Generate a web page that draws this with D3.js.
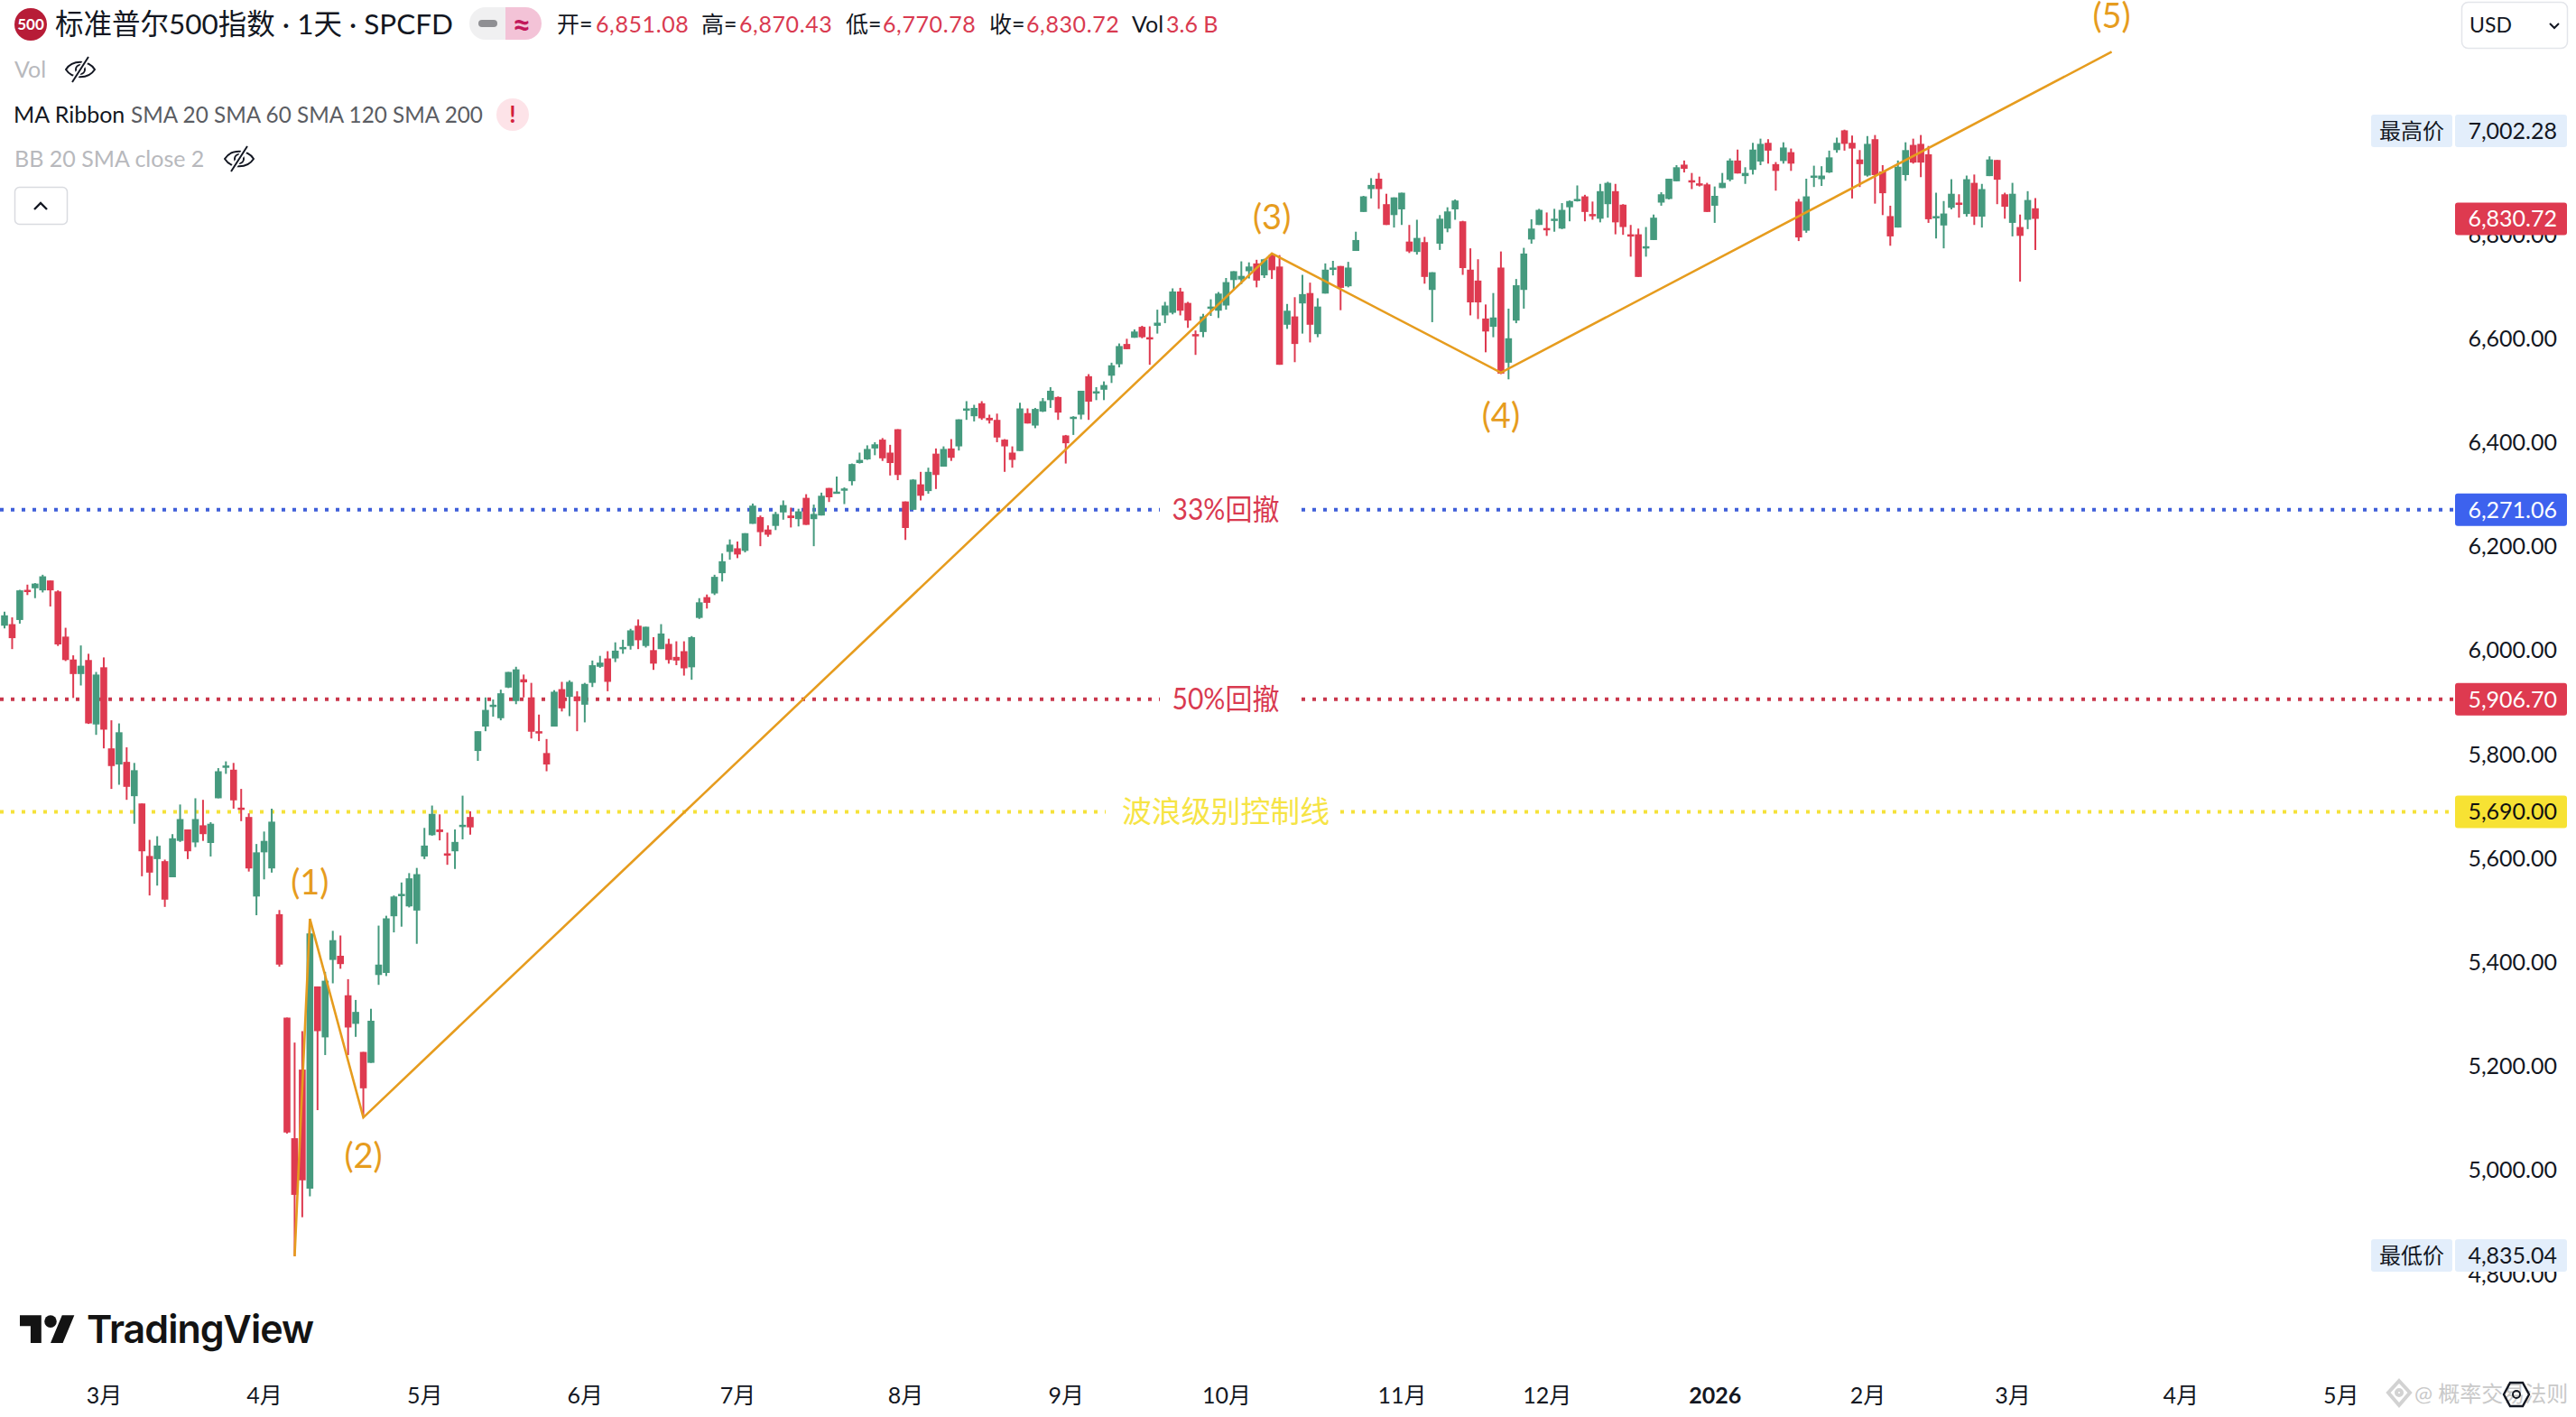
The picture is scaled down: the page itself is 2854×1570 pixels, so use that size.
<!DOCTYPE html>
<html>
<head>
<meta charset="utf-8">
<script src="https://cdn.jsdelivr.net/npm/d3@7"></script>
<style>
  body { margin: 0; background: #fff; }
  text { font-family: "Lato", "Noto Sans CJK SC", sans-serif; }
</style>
</head>
<body>
<div id="chart"></div>
<script>
// Daily candles
const opens = [6048,6051,6059,6117,6120,6116,6135,6114,6027,5983,
  5955,5982,5858,5968,5812,5781,5786,5720,5706,5605,
  5599,5595,5564,5634,5656,5631,5664,5630,5716,5776,
  5771,5698,5680,5527,5612,5581,5493,5294,5062,5194,
  4965,5354,5256,5405,5413,5337,5282,5228,5207,5376,
  5380,5489,5531,5508,5500,5604,5645,5656,5610,5614,
  5663,5680,5807,5854,5893,5870,5929,5903,5945,5910,
  5845,5803,5854,5926,5911,5912,5896,5938,5969,5985,
  5985,6004,6009,6048,6009,6001,6003,6013,5988,5999,
  5968,6063,6103,6110,6149,6190,6197,6192,6244,6257,
  6233,6240,6266,6260,6253,6294,6253,6260,6313,6304,
  6309,6326,6361,6368,6389,6406,6381,6426,6287,6271,
  6320,6307,6379,6354,6389,6393,6462,6451,6476,6448,
  6444,6406,6381,6384,6457,6433,6460,6482,6488,6414,
  6447,6454,6528,6497,6502,6529,6551,6590,6602,6623,
  6603,6625,6645,6650,6691,6669,6609,6613,6660,6654,
  6664,6713,6714,6730,6745,6722,6761,6739,6627,6643,
  6668,6688,6609,6687,6735,6740,6701,6769,6844,6888,
  6908,6859,6838,6849,6787,6767,6786,6694,6783,6812,
  6849,6826,6733,6712,6639,6623,6737,6554,6635,6694,
  6791,6819,6813,6829,6812,6853,6866,6874,6840,6831,
  6859,6884,6858,6801,6801,6776,6790,6862,6869,6903,
  6935,6905,6899,6897,6856,6890,6906,6943,6913,6925,
  6941,6977,6936,6942,6959,6864,6808,6911,6907,6920,
  6963,7001,6977,6945,6914,6984,6922,6836,6814,6915,
  6973,6975,6955,6834,6818,6852,6862,6840,6900,6835,
  6913,6944,6878,6823,6815,6829,6851.08]
const highs = [6075,6064,6117,6127,6130,6146,6135,6116,6044,5991,
  6010,5994,5959,5987,5866,5860,5814,5784,5706,5636,
  5643,5598,5647,5704,5656,5716,5713,5670,5774,5787,
  5784,5734,5687,5628,5652,5696,5501,5294,5246,5268,
  5484,5354,5382,5461,5452,5368,5328,5228,5311,5471,
  5490,5529,5554,5572,5582,5659,5702,5685,5650,5656,
  5721,5691,5845,5910,5906,5925,5959,5969,5954,5938,
  5877,5830,5924,5940,5943,5922,5938,5981,5990,5999,
  6016,6021,6042,6060,6046,6026,6051,6023,6018,6018,
  6028,6101,6108,6146,6187,6214,6210,6226,6283,6260,
  6241,6267,6289,6275,6273,6301,6281,6304,6313,6335,
  6314,6360,6381,6395,6401,6409,6396,6426,6287,6330,
  6344,6352,6389,6393,6407,6445,6480,6473,6480,6454,
  6456,6407,6393,6477,6466,6467,6486,6507,6489,6415,
  6451,6500,6532,6507,6518,6554,6591,6600,6618,6625,
  6624,6656,6671,6697,6698,6671,6616,6648,6676,6690,
  6717,6730,6749,6747,6752,6754,6764,6761,6667,6680,
  6723,6708,6678,6745,6750,6740,6748,6806,6875,6909,
  6919,6879,6872,6881,6819,6829,6796,6728,6838,6853,
  6868,6827,6774,6753,6666,6688,6768,6658,6715,6775,
  6830,6850,6843,6850,6861,6866,6895,6877,6864,6898,
  6902,6898,6859,6819,6812,6815,6839,6882,6908,6934,
  6943,6919,6912,6900,6893,6919,6947,6964,6930,6977,
  6985,6984,6940,6978,6966,6869,6908,6933,6932,6962,
  6987,7002.28,6991,6963,6990,6992,6934,6856,6943,6978,
  6985,6992,6971,6881,6865,6907,6878,6914,6916,6898,
  6951,6944,6881,6900,6839,6884,6870.43]
const lows = [6043,6003,6052,6107,6101,6112,6085,6009,5980,5909,
  5933,5859,5838,5812,5734,5742,5713,5667,5566,5529,
  5548,5507,5564,5632,5599,5622,5634,5604,5716,5763,
  5696,5672,5575,5491,5560,5573,5392,5071,4835.04,4910,
  4950,5116,5222,5360,5388,5222,5257,5102,5207,5357,
  5374,5458,5469,5506,5436,5599,5644,5635,5588,5580,
  5637,5646,5788,5845,5873,5866,5928,5897,5910,5831,
  5826,5768,5854,5883,5874,5845,5862,5930,5967,5922,
  5978,5994,6002,6003,6006,5963,6003,5975,5972,5952,
  5944,6061,6081,6107,6133,6175,6178,6189,6244,6201,
  6219,6232,6252,6237,6239,6242,6201,6260,6286,6304,
  6282,6318,6360,6367,6376,6365,6337,6328,6213,6271,
  6289,6302,6311,6354,6365,6385,6444,6441,6444,6437,
  6401,6344,6352,6384,6437,6428,6459,6467,6444,6360,
  6415,6445,6444,6482,6482,6515,6545,6580,6602,6601,
  6550,6610,6630,6647,6645,6621,6569,6603,6644,6640,
  6656,6693,6705,6716,6699,6717,6715,6550,6619,6555,
  6610,6593,6603,6687,6722,6655,6699,6769,6844,6870,
  6850,6819,6814,6819,6765,6762,6706,6632,6771,6805,
  6829,6723,6645,6638,6574,6603,6532,6522,6630,6658,
  6783,6819,6798,6806,6811,6826,6864,6826,6829,6824,
  6833,6801,6800,6758,6719,6758,6790,6856,6868,6903,
  6920,6888,6893,6844,6823,6890,6903,6918,6898,6916,
  6934,6937,6885,6937,6923,6788,6804,6892,6894,6919,
  6958,6962,6870,6892,6912,6860,6838,6779,6814,6904,
  6937,6911,6823,6793,6774,6849,6833,6835,6819,6814,
  6913,6859,6831,6797,6710,6811,6770.78]
const closes = [6068,6024,6116,6115,6129,6143,6116,6012,5982,5955,
  5971,5860,5954,5848,5778,5843,5738,5770,5614,5573,
  5625,5521,5639,5676,5614,5676,5647,5667,5768,5779,
  5712,5695,5581,5612,5634,5671,5396,5073,4953,4981,
  5456,5268,5365,5443,5397,5275,5305,5158,5288,5396,
  5485,5527,5532,5562,5570,5625,5686,5651,5607,5632,
  5665,5660,5845,5886,5896,5918,5959,5964,5939,5844,
  5842,5781,5921,5889,5940,5903,5936,5972,5977,5940,
  6000,6007,6039,6020,6046,5975,6033,5982,5981,5966,
  6026,6093,6092,6142,6172,6204,6185,6226,6279,6228,
  6223,6263,6280,6255,6268,6242,6263,6298,6295,6306,
  6312,6359,6367,6388,6397,6370,6361,6338,6236,6329,
  6298,6344,6338,6388,6371,6445,6466,6467,6447,6443,
  6410,6393,6367,6466,6437,6465,6480,6500,6458,6399,
  6450,6500,6479,6499,6511,6549,6586,6580,6614,6603,
  6599,6631,6664,6691,6654,6635,6606,6643,6662,6687,
  6709,6730,6721,6739,6712,6753,6732,6550,6654,6590,
  6686,6627,6662,6733,6737,6698,6737,6790,6874,6896,
  6888,6819,6872,6881,6768,6794,6719,6728,6831,6845,
  6866,6736,6670,6670,6614,6641,6533,6601,6703,6764,
  6812,6848,6810,6831,6848,6865,6869,6844,6838,6884,
  6900,6824,6815,6798,6719,6778,6833,6878,6908,6930,
  6927,6903,6895,6844,6875,6900,6943,6918,6919,6964,
  6975,6962,6923,6968,6937,6795,6874,6914,6914,6949,
  6977,6975,6966,6936,6975,6915,6880,6797,6931,6963,
  6939,6939,6830,6836,6841,6879,6859,6907,6835,6888,
  6945,6906,6854,6879,6798,6867,6830.72]

// Month ticks: bar index of the first session of each month
const monthIndex = [13,34,55,76,96,118,139,160,183,202,224,244,263,285,306]
const monthLabels = ['3月','4月','5月','6月','7月','8月','9月','10月','11月','12月','2026','2月','3月','4月','5月']
const priceTicks = [4800,5000,5200,5400,5600,5800,6000,6200,6400,6600,6800,7000]

// Elliott wave path
const waveIndex = [38,40,47,166,196,276]
const wavePrice = [4835.04,5484,5102,6764,6535,7152]
const waveLabels = ['(1)','(2)','(3)','(4)','(5)']
const waveLabelIndex = [40,47,166,196,276]
const waveLabelPrice = [5554,5028,6835,6453,7221]

// Horizontal levels
const levelNames = ['33%回撤','50%回撤','波浪级别控制线']
const levelPrices = [6271.06,5906.70,5690.00]
const levelColors = ['#3f5fd9','#c9374c','#f5e23a']
const levelTextColors = ['#d93a50','#d93a50','#f6e445']
const levelBoxColors = ['#3d62ee','#de3a50','#f7e233']
const levelBoxText = ['#fff','#fff','#111']
const levelGap = [[1285,1442],[1285,1442],[1225,1485]]
const levelFontSize = [32,32,33]
const levelTextLength = [119,119,230]

const upColor = '#459a7e'
const downColor = '#de3a50'
const waveColor = '#e69c1e'

const width = 2854, height = 1570
const svg = d3.select('#chart').append('svg')
  .attr('width', width)
  .attr('height', height)
  .style('display', 'block')
  .style('background', '#fff')

const x = d3.scaleLinear().domain([0, 266]).range([5, 2255])
const y = d3.scaleLinear().domain([4800, 7000]).range([1412, 145])
const fmt = d3.format(',.2f')

// Price axis
const yAxis = svg.append('g')
  .attr('transform', 'translate(2833,0)')
  .call(d3.axisRight(y).tickValues(priceTicks).tickSize(0).tickPadding(0).tickFormat(fmt))
yAxis.select('.domain').remove()
yAxis.selectAll('text')
  .attr('text-anchor', 'end')
  .attr('font-size', 25)
  .attr('fill', '#131722')

// Time axis
const xAxis = svg.append('g')
  .attr('transform', 'translate(0,1537)')
  .call(d3.axisBottom(x).tickValues(monthIndex).tickSize(0).tickPadding(0)
    .tickFormat((d, i) => monthLabels[i]))
xAxis.select('.domain').remove()
xAxis.selectAll('text')
  .attr('font-size', 25)
  .attr('fill', '#131722')
  .attr('font-weight', (d, i) => monthLabels[i] === '2026' ? 700 : 400)

// Dotted levels, each broken around its label
levelNames.forEach((name, i) => {
  const yy = y(levelPrices[i])
  const parts = [[0, levelGap[i][0]], [levelGap[i][1], 2720]]
  svg.append('g').selectAll('line')
    .data(parts)
    .enter()
    .append('line')
      .attr('x1', d => d[0])
      .attr('x2', d => d[1])
      .attr('y1', yy)
      .attr('y2', yy)
      .attr('stroke', levelColors[i])
      .attr('stroke-width', 4)
      .attr('stroke-dasharray', '4 8')
  svg.append('text')
    .attr('x', 1358)
    .attr('y', yy)
    .attr('dy', '0.36em')
    .attr('text-anchor', 'middle')
    .attr('font-size', levelFontSize[i])
    .attr('textLength', levelTextLength[i])
    .attr('lengthAdjust', 'spacingAndGlyphs')
    .attr('fill', levelTextColors[i])
    .text(name)
})

// Candles
const candles = d3.range(closes.length)
const candle = svg.append('g').selectAll('g')
  .data(candles)
  .enter()
  .append('g')
candle.append('line')
  .attr('x1', i => x(i))
  .attr('x2', i => x(i))
  .attr('y1', i => y(highs[i]))
  .attr('y2', i => y(lows[i]))
  .attr('stroke', i => closes[i] >= opens[i] ? upColor : downColor)
  .attr('stroke-width', 2)
candle.append('rect')
  .attr('x', i => x(i) - 3.8)
  .attr('width', 7.6)
  .attr('y', i => y(Math.max(opens[i], closes[i])))
  .attr('height', i => Math.max(2.5, Math.abs(y(opens[i]) - y(closes[i]))))
  .attr('fill', i => closes[i] >= opens[i] ? upColor : downColor)

// Wave line and its labels
const waveLine = d3.line()
  .x(d => x(d[0]))
  .y(d => y(d[1]))
svg.append('path')
  .datum(d3.zip(waveIndex, wavePrice))
  .attr('d', waveLine)
  .attr('fill', 'none')
  .attr('stroke', waveColor)
  .attr('stroke-width', 2.6)
svg.append('g').selectAll('text')
  .data(waveLabels)
  .enter()
  .append('text')
    .attr('x', (d, i) => x(waveLabelIndex[i]))
    .attr('y', (d, i) => y(waveLabelPrice[i]))
    .attr('dy', '0.36em')
    .attr('text-anchor', 'middle')
    .attr('font-size', 38)
    .attr('fill', waveColor)
    .text(d => d)

// Price boxes on the right
function priceBox(yy, label, fill, color) {
  svg.append('rect')
    .attr('x', 2720).attr('y', yy - 18)
    .attr('width', 124).attr('height', 36)
    .attr('rx', 3)
    .attr('fill', fill)
  svg.append('text')
    .attr('x', 2833).attr('y', yy)
    .attr('dy', '0.36em')
    .attr('text-anchor', 'end')
    .attr('font-size', 25)
    .attr('fill', color)
    .text(label)
}
function sideBox(yy, label) {
  svg.append('rect')
    .attr('x', 2627).attr('y', yy - 18)
    .attr('width', 90).attr('height', 36)
    .attr('rx', 3)
    .attr('fill', '#e3eefb')
  svg.append('text')
    .attr('x', 2672).attr('y', yy)
    .attr('dy', '0.36em')
    .attr('text-anchor', 'middle')
    .attr('font-size', 24)
    .attr('fill', '#131722')
    .text(label)
}
sideBox(145, '最高价')
priceBox(145, fmt(7002.28), '#e3eefb', '#131722')
priceBox(y(closes[266]), fmt(closes[266]), '#de3a50', '#fff')
levelPrices.forEach((p, i) => priceBox(y(p), fmt(p), levelBoxColors[i], levelBoxText[i]))
sideBox(1391, '最低价')
priceBox(1391, fmt(4835.04), '#e3eefb', '#131722')

// Currency selector
svg.append('rect')
  .attr('x', 2727.5).attr('y', 2.5)
  .attr('width', 117).attr('height', 51)
  .attr('rx', 7)
  .attr('fill', '#fff')
  .attr('stroke', '#e3e5ea')
  .attr('stroke-width', 1.5)
svg.append('text')
  .attr('x', 2736).attr('y', 28)
  .attr('dy', '0.36em')
  .attr('font-size', 23)
  .attr('fill', '#131722')
  .text('USD')
svg.append('path')
  .attr('d', 'M2825 26l5 5 5-5')
  .attr('fill', 'none')
  .attr('stroke', '#131722')
  .attr('stroke-width', 2)

// Legend header
function legendText(xx, yy, str, size, color) {
  return svg.append('text')
    .attr('x', xx).attr('y', yy)
    .attr('dy', '0.36em')
    .attr('font-size', size)
    .attr('fill', color)
    .text(str)
}
svg.append('circle').attr('cx', 34).attr('cy', 27).attr('r', 18).attr('fill', '#b71c37')
svg.append('text')
  .attr('x', 34).attr('y', 27)
  .attr('dy', '0.36em')
  .attr('text-anchor', 'middle')
  .attr('font-size', 17)
  .attr('font-weight', 700)
  .attr('fill', '#fff')
  .text('500')
legendText(61, 27, '标准普尔500指数 · 1天 · SPCFD', 31.5, '#131722')

// Status pill
svg.append('path').attr('d', 'M560 8h-22a18 18 0 0 0 0 36h22z').attr('fill', '#f0f0f1')
svg.append('path').attr('d', 'M560 8h22a18 18 0 0 1 0 36h-22z').attr('fill', '#f3c3d7')
svg.append('rect').attr('x', 530).attr('y', 22).attr('width', 21).attr('height', 8).attr('rx', 4).attr('fill', '#8f8f93')
svg.append('text')
  .attr('x', 578).attr('y', 27)
  .attr('dy', '0.36em')
  .attr('text-anchor', 'middle')
  .attr('font-size', 36)
  .attr('font-weight', 700)
  .attr('fill', '#c2185b')
  .text('≈')

const ohlcNames = ['开=', '高=', '低=', '收=']
const ohlcValues = [6851.08, 6870.43, 6770.78, 6830.72]
const ohlcNameX = [617, 777, 937, 1096]
const ohlcValueX = [660, 819, 978, 1137]
ohlcNames.forEach((n, i) => {
  legendText(ohlcNameX[i], 27, n, 25, '#131722')
  legendText(ohlcValueX[i], 27, fmt(ohlcValues[i]), 25, '#d93a50')
    .style('letter-spacing', '0.6px')
})
legendText(1254, 27, 'Vol', 25, '#131722')
legendText(1292, 27, '3.6 B', 25, '#d93a50')

function eyeOff(cx, cy) {
  const g = svg.append('g')
    .attr('transform', 'translate(' + cx + ',' + cy + ')')
    .attr('fill', 'none')
    .attr('stroke', '#131722')
    .attr('stroke-width', 2)
  g.append('path').attr('d', 'M-16 0C-9 -11 9 -11 16 0C9 11 -9 11 -16 0Z')
  g.append('circle').attr('r', 5)
  g.append('path').attr('d', 'M-9 14L9 -14').attr('stroke', '#fff').attr('stroke-width', 6)
  g.append('path').attr('d', 'M-9 14L9 -14')
}

legendText(16, 77, 'Vol', 25, '#b8b9bd')
eyeOff(89, 77)
legendText(15, 127, 'MA Ribbon', 25, '#131722')
legendText(145, 127, 'SMA 20 SMA 60 SMA 120 SMA 200', 24.3, '#5b5d63')
svg.append('circle').attr('cx', 568).attr('cy', 127).attr('r', 18).attr('fill', '#fde3e8')
svg.append('text')
  .attr('x', 568).attr('y', 127)
  .attr('dy', '0.36em')
  .attr('text-anchor', 'middle')
  .attr('font-size', 26)
  .attr('font-weight', 700)
  .attr('fill', '#d3203c')
  .text('!')
legendText(16, 176, 'BB 20 SMA close 2', 25, '#b8b9bd')
eyeOff(265, 176)

// Collapse button
svg.append('rect')
  .attr('x', 16.5).attr('y', 207.5)
  .attr('width', 58).attr('height', 41)
  .attr('rx', 5)
  .attr('fill', '#fff')
  .attr('stroke', '#d9dbe0')
  .attr('stroke-width', 1.5)
svg.append('path')
  .attr('d', 'M38 232l7-7 7 7')
  .attr('fill', 'none')
  .attr('stroke', '#131722')
  .attr('stroke-width', 2.4)

// TradingView mark
const logo = svg.append('g')
  .attr('transform', 'translate(22,1450.5) scale(1.7)')
  .attr('fill', '#131313')
logo.append('path').attr('d', 'M14 22H7V11H0V4h14v18zM28 22h-8l7.5-18h8L28 22z')
logo.append('circle').attr('cx', 20).attr('cy', 8).attr('r', 4)
svg.append('text')
  .attr('x', 96).attr('y', 1488)
  .attr('font-size', 43)
  .attr('font-weight', 600)
  .attr('fill', '#131313')
  .style('font-family', '"Inter", sans-serif')
  .style('letter-spacing', '-1px')
  .text('TradingView')

// Watermark and settings icon
const wm = svg.append('g')
  .attr('fill', 'none')
  .attr('stroke', '#d2d2d2')
  .attr('stroke-width', 4)
wm.append('path').attr('d', 'M2658 1530l12 13-12 14-12-14z')
wm.append('circle').attr('cx', 2658).attr('cy', 1543).attr('r', 3)
svg.append('text')
  .attr('x', 2675).attr('y', 1544)
  .attr('dy', '0.36em')
  .attr('font-size', 24)
  .attr('fill', '#c9c9c9')
  .text('@ 概率交易法则')
svg.append('path')
  .attr('d', 'M2774 1545l7-13h14l7 13-7 13h-14z')
  .attr('fill', 'none')
  .attr('stroke', '#131722')
  .attr('stroke-width', 2.4)
svg.append('circle')
  .attr('cx', 2788).attr('cy', 1545).attr('r', 4)
  .attr('fill', 'none')
  .attr('stroke', '#131722')
  .attr('stroke-width', 2)
</script>
</body>
</html>
